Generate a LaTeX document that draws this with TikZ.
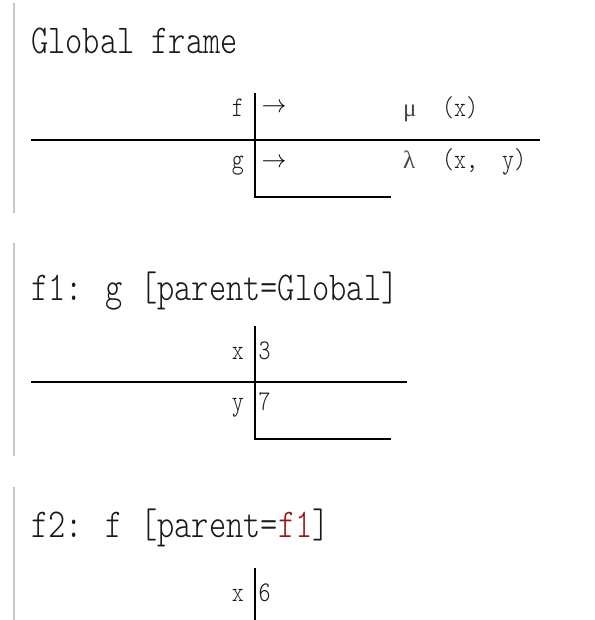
\documentclass[tikz,border=0pt]{standalone}
\usepackage{fontspec}
\newfontfamily\greekfont{Liberation Serif}
\newfontfamily\condmono{lmmonolt10-regular.otf}[FakeStretch=0.8]
\definecolor{barc}{RGB}{200,200,200}
\definecolor{redc}{RGB}{150,20,20}
\newcommand\mytitlefont{\condmono\fontsize{41}{43}\selectfont}
\newcommand\myrowfont{\condmono\fontsize{28.5}{30}\selectfont}
\newcommand\mygreekfont{\greekfont\fontsize{25}{27}\selectfont}
\newcommand\myarrowfont{\fontsize{24}{26}\selectfont}
\tikzset{
  titletext/.style={anchor=base west, inner sep=0pt, font=\mytitlefont, text=black!90},
  lbl/.style={anchor=base east, inner sep=0pt, font=\myrowfont, text=black!90},
  val/.style={anchor=base west, inner sep=0pt, font=\myrowfont, text=black!90},
  grk/.style={anchor=base west, inner sep=0pt, font=\mygreekfont, text=black!72},
  arr/.style={anchor=base west, inner sep=0pt, font=\myarrowfont},
  sidebar/.style={draw=barc, line width=2pt},
  rowrule/.style={draw=black, line width=1.6pt},
  stem/.style={draw=black, line width=2.6pt},
}
\begin{document}
\begin{tikzpicture}[x=1pt,y=-1pt]
\useasboundingbox (0,0) rectangle (594,620);
% side bars
\draw[sidebar] (13.5,3) -- (13.5,213);
\draw[sidebar] (13.5,243) -- (13.5,456);
\draw[sidebar] (13.5,487) -- (13.5,620);

% ---- Global frame ----
\node[titletext] (t1) at (31,53.5) {Global frame};
\draw[rowrule] (31,140) -- (540,140);
\draw[stem] (255,93) -- (255,197) -- (391,197);
\node[lbl] (lf) at (244,117) {f};
\node[arr] (af) at (261.5,113) {$\rightarrow$};
\node[grk] (mu) at (403,117) {μ};
\node[val] (mx) at (442,117) {(x)};
\node[lbl] (lg) at (244,169) {g};
\node[arr] (ag) at (261.5,168) {$\rightarrow$};
\node[grk] (la) at (403,169) {λ};
\node[val] (lxy) at (442,169) {(x,\ \ y)};

% ---- f1 ----
\node[titletext] (t2) at (31,300) {f1: g [parent=Global]};
\draw[rowrule] (31,382) -- (407,382);
\draw[stem] (255,326) -- (255,439) -- (391,439);
\node[lbl] (f1x) at (244,359) {x};
\node[val] (f1xv) at (258.5,359) {3};
\node[lbl] (f1y) at (244,410) {y};
\node[val] (f1yv) at (258.5,410) {7};

% ---- f2 ----
\node[titletext] (t3) at (31,537) {f2: f [parent=\textcolor{redc}{f1}]};
\draw[stem] (255,568) -- (255,621);
\node[lbl] (f2x) at (244,601) {x};
\node[val] (f2xv) at (258.5,601) {6};
\end{tikzpicture}
\end{document}
